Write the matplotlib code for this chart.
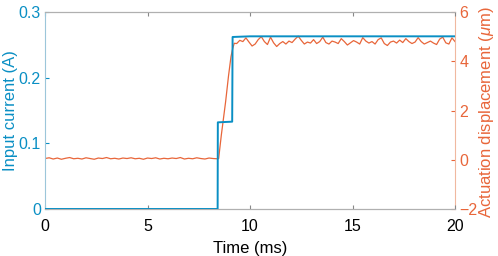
import numpy as np
import matplotlib
matplotlib.use("Agg")
import matplotlib.pyplot as plt

plt.rcParams['font.family'] = ['Liberation Sans', 'DejaVu Sans']
plt.rcParams['mathtext.fontset'] = 'custom'
plt.rcParams['mathtext.it'] = 'Liberation Sans:italic'
plt.rcParams['mathtext.rm'] = 'Liberation Sans'

BLUE = '#0a8fc4'
ORANGE = '#e8663a'

# input current (A), step profile
t_cur = [0, 8.42, 8.43, 9.13, 9.15, 10.0, 20.0]
i_cur = [0, 0, 0.132, 0.133, 0.262, 0.263, 0.263]

# actuation displacement (um)
base_disp = [0.05, 0.08, 0.03, 0.07, 0.02, 0.06, 0.09, 0.04, 0.06, 0.03, 0.08,
             0.05, 0.02, 0.07, 0.05, 0.09, 0.04, 0.06, 0.03, 0.07, 0.05, 0.08,
             0.04, 0.06, 0.02, 0.07, 0.05, 0.08, 0.03, 0.06, 0.04, 0.07, 0.05,
             0.09, 0.03, 0.06, 0.04, 0.08, 0.05, 0.03, 0.07, 0.05, 0.04]
rise_t = [8.47, 8.6, 8.81, 8.95, 9.07, 9.15, 9.23]
rise_disp = [0.05, 1.0, 2.36, 3.4, 4.18, 4.5, 4.73]
plateau_disp = [4.72, 4.85, 4.80, 4.95, 4.78, 4.62, 4.70, 4.88, 5.00, 4.80, 4.68,
                4.98, 4.75, 4.60, 4.72, 4.80, 4.70, 4.82, 4.76, 4.90, 5.02, 4.85,
                4.70, 4.78, 4.74, 4.88, 4.72, 4.80, 4.98, 4.76, 4.70, 4.82, 4.78,
                4.72, 4.92, 4.80, 4.66, 4.75, 4.84, 4.78, 4.70, 4.96, 4.82, 4.74,
                4.80, 4.70, 4.88, 4.95, 4.72, 4.64, 4.78, 4.82, 4.74, 4.86, 4.76,
                4.92, 4.80, 4.72, 4.78, 4.96, 4.80, 4.70, 4.76, 4.82, 4.74, 4.68,
                4.90, 4.98, 4.75, 4.70, 4.95, 4.80]

t_base = np.linspace(0, 8.4, len(base_disp))
t_plat = np.linspace(9.35, 20, len(plateau_disp))
t_disp = np.concatenate([t_base, rise_t, t_plat])
disp = np.concatenate([base_disp, rise_disp, plateau_disp])

fig = plt.figure(figsize=(4.98, 2.56), dpi=100)
ax = fig.add_axes([0.0904, 0.1836, 0.8233, 0.7694])
ax2 = ax.twinx()

ax2.plot(t_disp, disp, color=ORANGE, lw=0.9)
ax.plot(t_cur, i_cur, color=BLUE, lw=1.4, zorder=3)
ax.set_zorder(ax2.get_zorder() + 1)
ax.patch.set_visible(False)

ax.set_xlim(0, 20)
ax.set_ylim(0, 0.3)
ax2.set_ylim(-2, 6)
ax.set_xticks([0, 5, 10, 15, 20])
ax.set_yticks([0, 0.1, 0.2, 0.3])
ax.set_yticklabels(['0', '0.1', '0.2', '0.3'])
ax2.set_yticks([-2, 0, 2, 4, 6])

fs = 12
tfs = 11.5
ax.set_xlabel('Time (ms)', fontsize=fs, labelpad=5)
ax.set_ylabel('Input current (A)', fontsize=fs, color=BLUE)
ax2.set_ylabel(r'Actuation displacement ($\mu$m)', fontsize=fs, color=ORANGE)
ax.yaxis.set_label_coords(-0.083, 0.5)
ax.yaxis.label.set_va('center')
ax2.yaxis.set_label_coords(1.076, 0.49)
ax2.yaxis.label.set_va('center')

ax.tick_params(axis='x', direction='in', top=True, labelsize=tfs, length=3,
               color='#888888', pad=7)
ax.tick_params(axis='y', direction='in', labelsize=tfs, length=3, colors=BLUE, pad=3)
ax2.tick_params(axis='y', direction='in', labelsize=tfs, length=3, colors=ORANGE, pad=3)

for a in (ax, ax2):
    for s in ('top', 'bottom'):
        a.spines[s].set_color('#b0b0b0')
ax.spines['left'].set_color('#9cc6da')
ax2.spines['left'].set_visible(False)
ax2.spines['right'].set_color('#f0b8a0')
ax.spines['right'].set_visible(False)

fig.savefig('out.png', dpi=100)
